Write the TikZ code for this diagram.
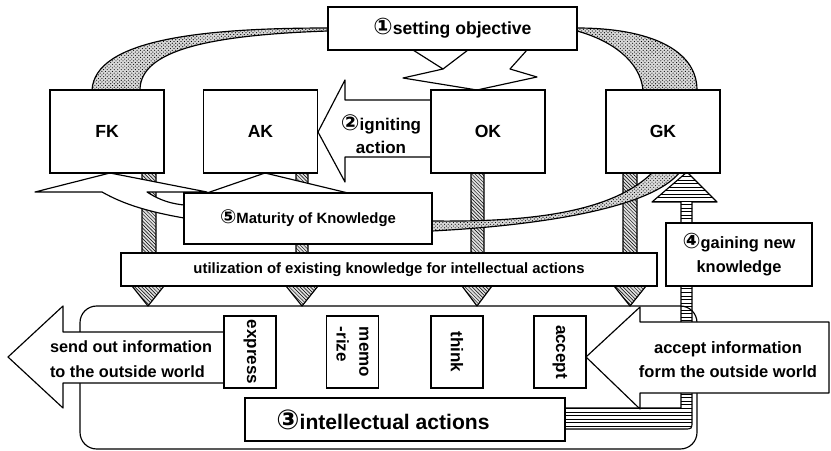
\documentclass[tikz,border=0pt]{standalone}
\usepackage{fontspec}
\setmainfont{Liberation Sans}
\newfontfamily\circfont[Scale=1.3]{DejaVu Sans}
\usetikzlibrary{patterns}
\tikzset{
  box/.style={draw, fill=white, line width=0.035cm, inner sep=0pt, align=center},
  kbox/.style={box, minimum width=3.42cm, minimum height=2.49cm, font=\bfseries\fontsize{15}{18}\selectfont},
  vbox/.style={box, rotate=-90, minimum width=2.16cm, minimum height=1.56cm, align=left, font=\bfseries\fontsize{14.5}{19.5}\selectfont},
  shapeline/.style={line width=0.035cm, line join=round},
  hatched/.style={shapeline, preaction={fill=gray!25}, pattern=north west lines},
  striped/.style={shapeline, pattern=horizontal lines},
  dotband/.style={shapeline, preaction={fill=gray!30}, pattern=crosshatch dots},
  whitearrow/.style={shapeline, fill=white}
}
\begin{document}
\begin{tikzpicture}[x=0.03cm, y=-0.03cm]
\useasboundingbox (0,0) rectangle (831,451);

% Drawing frame round the intellectual actions
\draw [line width=0.035cm, rounded corners=0.5cm] (80,306) rectangle (697,449);

% Drawing hatched arrow FK down
\draw [hatched] (142,173) -- (142,286) -- (132,286) -- (148,306) -- (164,286) -- (156,286) -- (156,173) -- cycle;

% Drawing hatched arrow AK down
\draw [hatched] (296,173) -- (296,286) -- (286,286) -- (302,306) -- (318,286) -- (308,286) -- (308,173) -- cycle;

% Drawing hatched arrow OK down
\draw [hatched] (471,172) -- (471,286) -- (462,286) -- (477,306) -- (492,286) -- (484,286) -- (484,172) -- cycle;

% Drawing hatched arrow GK down
\draw [hatched] (623,172) -- (623,286) -- (614,286) -- (630,306) -- (646,286) -- (637,286) -- (637,172) -- cycle;

% Drawing striped arrow from intellectual actions up to GK
\draw [striped] (565,408) -- (681,408) -- (681,202) -- (652,202) -- (687,172) -- (717,202) -- (692,202) -- (692,421) .. controls (692,429) .. (684,429) -- (565,429) -- cycle;

% Drawing band setting objective to FK
\draw [dotband] (92,90) .. controls (95,40) and (200,28) .. (328,28) -- (328,31) .. controls (210,35) and (140,50) .. (140,90) -- cycle;

% Drawing band setting objective to GK
\draw [dotband] (577,28) .. controls (650,28) and (697,50) .. (697,90) -- (643,90) .. controls (640,60) and (610,40) .. (577,31) -- cycle;

% Drawing arrow setting objective to OK
\draw [whitearrow] (413,50) -- (443,69) -- (403,78) -- (477,90) -- (537,77) -- (510,69) -- (527,50);
\draw [shapeline] (468,50) -- (443,69);

% Drawing arrow igniting action
\draw [whitearrow] (431,100) -- (345,100) -- (345,80) -- (318,132) -- (345,182) -- (345,157) -- (431,157);
\node [align=center, font=\bfseries\fontsize{14.5}{19.5}\selectfont] (ignite) at (381,134) {{\circfont ②}igniting\\action};

% Drawing arrow maturity to FK
\draw [whitearrow] (184,205) .. controls (165,203) and (155,197) .. (147,192) -- (207,192) -- (110,173) -- (35,192) -- (102,192) .. controls (125,205) and (150,212) .. (184,218);

% Drawing arrow maturity to AK
\draw [whitearrow] (207,193) -- (265,173) -- (348,193);

% Drawing band GK to maturity
\draw [dotband] (653,172) .. controls (610,215) and (520,222) .. (432,221) -- (432,231) .. controls (530,226) and (650,210) .. (680,172) -- cycle;

% Drawing arrow send out information
\draw [whitearrow] (223,332) -- (63,332) -- (63,306) -- (8,357) -- (63,408) -- (63,383) -- (223,383);
\node [align=left, font=\bfseries\fontsize{13.9}{21}\selectfont] (sendout) at (131,359) {send out information\\to the outside world};

% Drawing arrow accept information
\draw [whitearrow] (829,322) -- (640,322) -- (640,307) -- (586,357) -- (640,409) -- (640,393) -- (829,393) -- cycle;
\node [align=center, font=\bfseries\fontsize{14.1}{20.5}\selectfont] (acceptin) at (728,360) {accept information\\form the outside world};

% Marking boxes
\node [box, minimum width=7.47cm, minimum height=1.29cm, font=\bfseries\fontsize{15}{18}\selectfont] (setobj) at (452.5,28.5) {{\circfont ①}setting objective};
\node [kbox] (FK) at (107,131.5) {FK};
\node [kbox] (AK) at (260.5,131.5) {AK};
\node [kbox] (OK) at (488,131.5) {OK};
\node [kbox] (GK) at (663,131.5) {GK};
\node [box, minimum width=7.44cm, minimum height=1.53cm, font=\bfseries\fontsize{12.7}{16}\selectfont] (maturity) at (308,218.5) {{\circfont ⑤}Maturity of Knowledge};
\node [box, minimum width=16.08cm, minimum height=0.99cm, font=\bfseries\fontsize{12.7}{15}\selectfont] (utilize) at (389,269.5) {utilization of existing knowledge for intellectual actions};
\node [box, minimum width=4.38cm, minimum height=1.89cm, font=\bfseries\fontsize{14}{21}\selectfont] (gaining) at (739,254.5) {{\circfont ④}gaining new\\knowledge};

% Marking intellectual actions
\node [vbox] (express) at (250,352) {express};
\node [vbox] (memorize) at (352.5,352) {memo\\-rize};
\node [vbox] (think) at (457,352) {think};
\node [vbox] (accept) at (560,352) {accept};
\node [box, minimum width=9.6cm, minimum height=1.29cm] (intel) at (405,419.5) {};
\node [font=\bfseries\fontsize{18}{22}\selectfont] (intellabel) at (383,420) {{\circfont ③}intellectual actions};
\end{tikzpicture}
\end{document}
